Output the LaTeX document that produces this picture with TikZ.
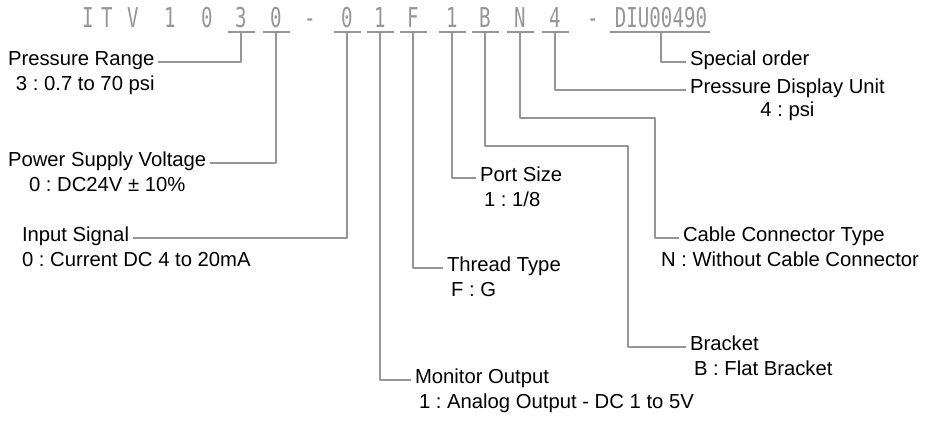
\documentclass[tikz,border=0pt]{standalone}
\usepackage{fontspec}
\setmainfont{Liberation Sans}
\newfontfamily\codefont{DejaVu Sans Mono}
\definecolor{codegray}{RGB}{150,150,150}
\definecolor{linegray}{RGB}{150,150,150}
\frenchspacing

\begin{document}
\begin{tikzpicture}[x=0.75pt, y=-0.75pt, line join=round,
    codechar/.style={font=\codefont\fontsize{20.5}{22}\selectfont, text=codegray, inner sep=0pt, anchor=base},
    lbl/.style={font=\fontsize{15.2}{18}\selectfont, inner sep=0pt, outer xsep=3pt},
    leader/.style={draw=linegray, line width=0.9pt}]

    \useasboundingbox (0,0) rectangle (933,422);

    % Caractères du code sans renvoi
    \foreach \nom/\x/\ch in {kI/88/I, kT/107/T, kV/133/V, k1/170/1, k0/207/0, dash1/310/-, dash2/593/-} {
        \node[codechar] (\nom) at (\x,27) {\scalebox{0.7}[1]{\ch}};
    }

    % Caractères soulignés (un renvoi chacun)
    \foreach \nom/\x/\ch in {range/241/3, supply/276/0, signal/347/0, monitor/380/1, thread/413/F, portsz/452/1, bracket/485/B, cable/520/N, dispunit/555/4} {
        \node[codechar] (\nom) at (\x,27) {\scalebox{0.7}[1]{\ch}};
        \coordinate (\nom-u) at (\x,32);
        \draw[leader] (\x-13.5,32) -- (\x+13.5,32);
    }
    \node[codechar] (special) at (661,27) {\scalebox{0.7}[1]{DIU00490}};
    \coordinate (special-u) at (661,32);
    \draw[leader] (610,32) -- (710,32);

    % Libellés à gauche
    \node[lbl, anchor=mid west] (range-t) at (4,62) {Pressure Range};
    \node[lbl, anchor=base west] (range-v) at (12,90) {3 : 0.7 to 70 psi};
    \node[lbl, anchor=mid west] (supply-t) at (4,163) {Power Supply Voltage};
    \node[lbl, anchor=base west] (supply-v) at (25,191) {0 : DC24V ± 10\%};
    \node[lbl, anchor=mid west] (signal-t) at (18,238) {Input Signal};
    \node[lbl, anchor=base west] (signal-v) at (18,266) {0 : Current DC 4 to 20mA};

    % Libellés à droite
    \node[lbl, anchor=mid west] (special-t) at (686,62) {Special order};
    \node[lbl, anchor=mid west] (dispunit-t) at (686,90) {Pressure Display Unit};
    \node[lbl, anchor=base] (dispunit-v) at ([yshift=-17.25pt]dispunit-t.base) {4 : psi};
    \node[lbl, anchor=mid west] (portsz-t) at (476,178) {Port Size};
    \node[lbl, anchor=base west] (portsz-v) at (480,206) {1 : 1/8};
    \node[lbl, anchor=mid west] (cable-t) at (679,238) {Cable Connector Type};
    \node[lbl, anchor=base west] (cable-v) at (657,266) {N : Without Cable Connector};
    \node[lbl, anchor=mid west] (thread-t) at (443,268) {Thread Type};
    \node[lbl, anchor=base west] (thread-v) at (447,296) {F : G};
    \node[lbl, anchor=mid west] (bracket-t) at (686,347) {Bracket};
    \node[lbl, anchor=base west] (bracket-v) at (690,375) {B : Flat Bracket};
    \node[lbl, anchor=mid west] (monitor-t) at (411,380) {Monitor Output};
    \node[lbl, anchor=base west] (monitor-v) at (415,408) {1 : Analog Output - DC 1 to 5V};

    % Coudes des renvois
    \coordinate (bracket-k) at (628,146);
    \coordinate (cable-k) at (655,118);

    % Renvois
    \draw[leader] (range-u) |- (range-t.mid east);
    \draw[leader] (supply-u) |- (supply-t.mid east);
    \draw[leader] (signal-u) |- (signal-t.mid east);
    \draw[leader] (monitor-u) |- (monitor-t.mid west);
    \draw[leader] (thread-u) |- (thread-t.mid west);
    \draw[leader] (portsz-u) |- (portsz-t.mid west);
    \draw[leader] (bracket-u) |- (bracket-k) |- (bracket-t.mid west);
    \draw[leader] (cable-u) |- (cable-k) |- (cable-t.mid west);
    \draw[leader] (dispunit-u) |- (dispunit-t.mid west);
    \draw[leader] (special-u) |- (special-t.mid west);

\end{tikzpicture}
\end{document}
